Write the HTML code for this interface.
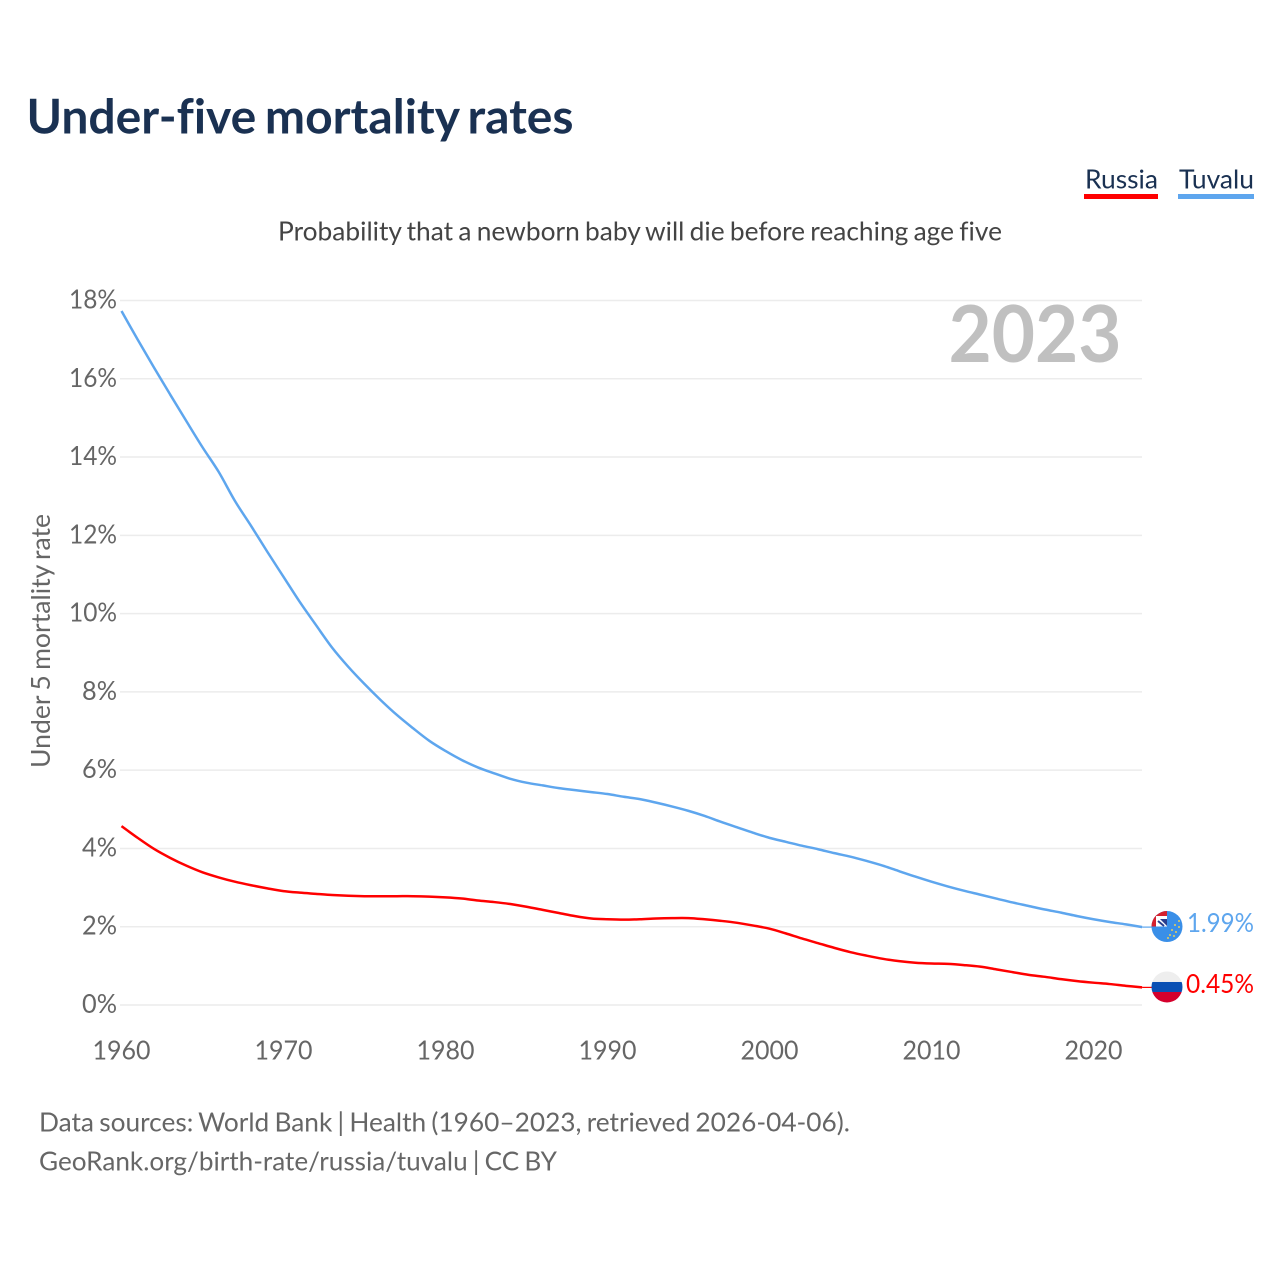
<!DOCTYPE html>
<html lang="en">
<head>
<meta charset="utf-8">
<title>Under-five mortality rates</title>
<style>
html,body{margin:0;padding:0;background:#fff;}
svg{display:block;font-family:"Lato","Carlito","Liberation Sans",sans-serif;font-variant-ligatures:none;}
</style>
</head>
<body>
<svg id="chart" xmlns="http://www.w3.org/2000/svg" width="1280" height="1280" viewBox="0 0 1280 1280">
  <defs>
    <clipPath id="clip-tuvalu"><circle id="clip-tuvalu-circle" cx="1167" cy="926.5" r="15.5"/></clipPath>
    <clipPath id="clip-russia"><circle id="clip-russia-circle" cx="1167" cy="987" r="15.5"/></clipPath>
  </defs>
  <rect width="1280" height="1280" fill="#fff"/>
  <text x="26.5" y="133.5" font-size="47.5" font-weight="700" fill="#1a3152" word-spacing="-3" textLength="547" lengthAdjust="spacingAndGlyphs">Under-five mortality rates</text>
  <g>
    <g>
      <text x="1085" y="188.5" font-size="26.5" fill="#1a3152" textLength="73" lengthAdjust="spacingAndGlyphs">Russia</text>
      <rect x="1084" y="194" width="74" height="5" fill="#ff0000"/>
    </g>
    <g>
      <text x="1179" y="188.5" font-size="26.5" fill="#1a3152" textLength="75" lengthAdjust="spacingAndGlyphs">Tuvalu</text>
      <rect x="1178" y="194" width="76" height="5" fill="#5ea6ee"/>
    </g>
  </g>
  <text x="278" y="240.5" font-size="26.5" fill="#444" word-spacing="-1.5" textLength="724" lengthAdjust="spacingAndGlyphs">Probability that a newborn baby will die before reaching age five</text>
  <g id="grid"></g>
  <g id="y-ticks"></g>
  <g id="x-ticks"></g>
  <text transform="translate(50,768) rotate(-90)" x="0" y="0" font-size="26.5" fill="#666" word-spacing="-1.5" textLength="254" lengthAdjust="spacingAndGlyphs">Under 5 mortality rate</text>
  <text x="948.5" y="362" font-size="79" font-weight="700" fill="#c0c0c0" textLength="173" lengthAdjust="spacingAndGlyphs">2023</text>
  <g id="series"></g>
  <g id="flag-tuvalu" clip-path="url(#clip-tuvalu)">
    <rect x="1151" y="910" width="32" height="33" fill="#3a8fe8"/>
    <rect x="1151" y="910" width="16" height="16.5" fill="#d5202e"/>
    <rect x="1156" y="916" width="11" height="10.5" fill="#fff"/>
    <path d="M1160 919H1167V926L1160 919Z" fill="#2a3f8f"/>
    <path d="M1158 921L1164 926" stroke="#2a3f8f" stroke-width="2" fill="none"/>
    <g fill="#e8cf58">
      <circle cx="1179" cy="921" r="1"/><circle cx="1175" cy="925" r="1"/><circle cx="1179" cy="927" r="1"/>
      <circle cx="1172" cy="930" r="1"/><circle cx="1176" cy="932" r="1"/><circle cx="1170" cy="935" r="1"/>
      <circle cx="1174" cy="936" r="1"/><circle cx="1168" cy="938" r="1"/>
    </g>
  </g>
  <g id="flag-russia" clip-path="url(#clip-russia)">
    <rect x="1151" y="971" width="32" height="11" fill="#eeeeee"/>
    <rect x="1151" y="982" width="32" height="10" fill="#0a50b4"/>
    <rect x="1151" y="992" width="32" height="11" fill="#d5002c"/>
  </g>
  <g id="end-labels"></g>
  <g>
    <text x="39" y="1131.5" font-size="26.5" fill="#666" word-spacing="-1.5" textLength="811" lengthAdjust="spacingAndGlyphs">Data sources: World Bank | Health (1960–2023, retrieved 2026-04-06).</text>
    <text x="39" y="1170.5" font-size="26.5" fill="#666" word-spacing="-1.5" textLength="518" lengthAdjust="spacingAndGlyphs">GeoRank.org/birth-rate/russia/tuvalu | CC BY</text>
  </g>
</svg>
<script>
const years = [1960,1961,1962,1963,1964,1965,1966,1967,1968,1969,1970,1971,1972,1973,1974,1975,1976,1977,1978,1979,1980,1981,1982,1983,1984,1985,1986,1987,1988,1989,1990,1991,1992,1993,1994,1995,1996,1997,1998,1999,2000,2001,2002,2003,2004,2005,2006,2007,2008,2009,2010,2011,2012,2013,2014,2015,2016,2017,2018,2019,2020,2021,2022,2023];
const tuvaluValues = [17.73,17.0,16.29,15.6,14.92,14.25,13.62,12.88,12.24,11.58,10.94,10.30,9.71,9.13,8.64,8.20,7.79,7.41,7.07,6.75,6.49,6.26,6.07,5.92,5.78,5.68,5.61,5.54,5.49,5.44,5.39,5.32,5.26,5.17,5.07,4.96,4.83,4.68,4.54,4.40,4.27,4.17,4.07,3.98,3.88,3.79,3.68,3.56,3.42,3.28,3.15,3.03,2.92,2.82,2.72,2.62,2.53,2.44,2.36,2.27,2.19,2.12,2.06,1.99];
const russiaValues = [4.57,4.27,3.99,3.76,3.56,3.39,3.26,3.15,3.06,2.98,2.91,2.87,2.84,2.81,2.79,2.78,2.78,2.78,2.78,2.77,2.75,2.72,2.67,2.63,2.58,2.51,2.43,2.35,2.27,2.21,2.19,2.18,2.19,2.21,2.22,2.22,2.19,2.15,2.10,2.03,1.95,1.83,1.70,1.58,1.46,1.35,1.26,1.18,1.12,1.08,1.06,1.05,1.02,0.98,0.91,0.84,0.77,0.72,0.66,0.61,0.57,0.535,0.49,0.45];
const yTickValues = [0,2,4,6,8,10,12,14,16,18];
const yTickLabels = ["0%","2%","4%","6%","8%","10%","12%","14%","16%","18%"];
const xTickValues = [1960,1970,1980,1990,2000,2010,2020];
const xTickLabels = ["1960","1970","1980","1990","2000","2010","2020"];
const tuvaluEndLabel = "1.99%";
const russiaEndLabel = "0.45%";

const NS = "http://www.w3.org/2000/svg";
function xScale(year){ return 121.5 + (year - 1960) * 16.2; }
function yScale(pct){ return 1005 - pct * 39.14; }
function mk(tag, parent, attrs){
  const el = document.createElementNS(NS, tag);
  for (const k in attrs) el.setAttribute(k, attrs[k]);
  parent.appendChild(el);
  return el;
}
function linePath(values){
  const pts = values.map(function(v,i){ return [xScale(years[i]), yScale(v)]; });
  let d = "M" + pts[0][0].toFixed(2) + " " + pts[0][1].toFixed(2);
  for (let i = 0; i < pts.length - 1; i++) {
    const p0 = pts[Math.max(i - 1, 0)], p1 = pts[i], p2 = pts[i + 1], p3 = pts[Math.min(i + 2, pts.length - 1)];
    const c1x = p1[0] + (p2[0] - p0[0]) / 6, c1y = p1[1] + (p2[1] - p0[1]) / 6;
    const c2x = p2[0] - (p3[0] - p1[0]) / 6, c2y = p2[1] - (p3[1] - p1[1]) / 6;
    d += "C" + c1x.toFixed(2) + " " + c1y.toFixed(2) + " " + c2x.toFixed(2) + " " + c2y.toFixed(2) + " " + p2[0].toFixed(2) + " " + p2[1].toFixed(2);
  }
  return d;
}

const grid = document.getElementById("grid");
const yTicks = document.getElementById("y-ticks");
yTickValues.forEach(function(v,i){
  const ln = mk("line", grid, {x1:120, x2:1142, y1:yScale(v), y2:yScale(v), stroke:"#ececec", "stroke-width":1.5});
  
  
  const label = yTickLabels[i];
  const t = mk("text", yTicks, {x:117, y:yScale(v)+8, "text-anchor":"end", "font-size":26, fill:"#666", textLength:label.length === 3 ? 48 : 35, lengthAdjust:"spacingAndGlyphs"});
  t.textContent = label;
  
  
});

const xTicks = document.getElementById("x-ticks");
xTickValues.forEach(function(v,i){
  const t = mk("text", xTicks, {x:xScale(v), y:1059.5, "text-anchor":"middle", "font-size":26, fill:"#666", textLength:58, lengthAdjust:"spacingAndGlyphs"});
  t.textContent = xTickLabels[i];
  
  
});

const series = document.getElementById("series");
const tuvaluLine = mk("path", series, {d:linePath(tuvaluValues), fill:"none", stroke:"#5ea6ee", "stroke-width":2.5, "stroke-linejoin":"round"});


const russiaLine = mk("path", series, {d:linePath(russiaValues), fill:"none", stroke:"#ff0000", "stroke-width":2.5, "stroke-linejoin":"round"});



const tuvaluLast = tuvaluValues[tuvaluValues.length - 1];
const russiaLast = russiaValues[russiaValues.length - 1];
const lastYear = years[years.length - 1];
const tuvaluLeader = mk("line", series, {x1:xScale(lastYear), x2:1153, y1:yScale(tuvaluLast), y2:yScale(tuvaluLast), stroke:"#5ea6ee", "stroke-width":1.2});


const russiaLeader = mk("line", series, {x1:xScale(lastYear), x2:1153, y1:yScale(russiaLast), y2:yScale(russiaLast), stroke:"#ff0000", "stroke-width":1.2});



const flagTuvaluY = yScale(tuvaluLast) - 0.6;
const flagRussiaY = yScale(russiaLast) - 0.4;
document.getElementById("flag-tuvalu").setAttribute("transform", "translate(0," + (flagTuvaluY - 926.5).toFixed(2) + ")");
document.getElementById("flag-russia").setAttribute("transform", "translate(0," + (flagRussiaY - 987).toFixed(2) + ")");

const endLabels = document.getElementById("end-labels");
const tuvaluText = mk("text", endLabels, {x:1187, y:yScale(tuvaluLast)+5, "font-size":26, fill:"#5ea6ee", textLength:67, lengthAdjust:"spacingAndGlyphs"});
tuvaluText.textContent = tuvaluEndLabel;


const russiaText = mk("text", endLabels, {x:1186, y:yScale(russiaLast)+5.5, "font-size":26, fill:"#ff0000", textLength:68, lengthAdjust:"spacingAndGlyphs"});
russiaText.textContent = russiaEndLabel;


</script>
</body>
</html>
